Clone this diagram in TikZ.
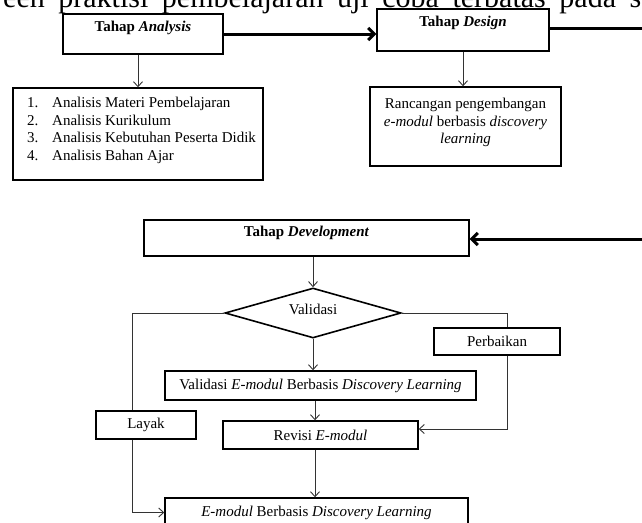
\documentclass[tikz,border=0pt]{standalone}
\usepackage{fontspec}
\setmainfont{Liberation Serif}
\usetikzlibrary{shapes.geometric,arrows.meta}
\begin{document}
\begin{tikzpicture}[x=1pt,y=-1pt,
  box/.style={draw=black, line width=1.4pt, rectangle, inner sep=0pt},
  lbl/.style={inner sep=0pt, font=\fontsize{15}{17.6}\selectfont},
  thinline/.style={draw=black!80, line width=0.9pt},
  thinarr/.style={thinline, -{Straight Barb[length=5pt,width=9pt]}},
  bigline/.style={draw=black, line width=3pt},
  bigarr/.style={bigline, -{Straight Barb[length=6pt,width=12pt]}}]
\useasboundingbox (0,0) rectangle (642,522);

% cut-off body text line at the top
\node[anchor=base west, inner sep=0pt, font=\fontsize{30}{36}\selectfont] (toptext) at (3,7) {\makebox[638pt][s]{een praktisi pembelajaran uji coba terbatas pada s}};

% top row
\node[box, minimum width=160pt, minimum height=40pt] (ana) at (143,34) {};
\node[lbl] (anat) at (143,28) {\bfseries Tahap \textit{Analysis}};
\node[box, minimum width=172pt, minimum height=42pt] (des) at (463,30) {};
\node[lbl] (dest) at (463,23) {\bfseries Tahap \textit{Design}};

\node[box, minimum width=250pt, minimum height=92pt] (lst) at (138,134) {};
\node[lbl, anchor=north west] (lstt) at (27,95) {\begin{tabular}{@{}p{25pt}@{}l@{}}
1. & Analisis Materi Pembelajaran\\
2. & Analisis Kurikulum\\
3. & Analisis Kebutuhan Peserta Didik\\
4. & Analisis Bahan Ajar
\end{tabular}};

\node[box, minimum width=191pt, minimum height=79pt] (dbox) at (465.5,126.5) {};
\node[lbl, align=center, anchor=north] (dboxt) at (465.5,98) {Rancangan pengembangan\\\textit{e-modul} berbasis \textit{discovery}\\\textit{learning}};

% development stage
\node[box, minimum width=325pt, minimum height=36pt] (dev) at (306.5,238) {};
\node[lbl] (devt) at (306.5,233) {\bfseries Tahap \textit{Development}};

\node[draw=black, line width=1.6pt, diamond, aspect=3.5, inner sep=0pt, minimum width=176pt, minimum height=50pt] (val) at (313,313) {};
\node[lbl] (valt) at (313,309) {Validasi};

\node[box, lbl, minimum width=126pt, minimum height=27pt] (perb) at (497,341.5) {Perbaikan};
\node[box, lbl, minimum width=311pt, minimum height=29pt] (vbox) at (320.5,385.5) {Validasi \textit{E-modul} Berbasis \textit{Discovery Learning}};
\node[box, lbl, minimum width=100pt, minimum height=28pt] (lay) at (146,425) {Layak};
\node[box, lbl, minimum width=195pt, minimum height=28pt] (rev) at (320.5,435) {Revisi \textit{E-modul}};
\node[box, lbl, minimum width=303pt, minimum height=29pt] (fin) at (316.5,512.5) {\textit{E-modul} Berbasis \textit{Discovery Learning}};

% connectors
\draw[bigarr] (ana.east) -- (ana.east -| des.west);
\coordinate (rtop) at (660,28);
\draw[bigline] (des.east |- rtop) -- (rtop);
\coordinate (rbot) at (660,239);
\draw[bigarr] (rbot) -- (rbot -| dev.east);

\draw[thinarr] (ana.south -| lst.north) -- (lst.north);
\draw[thinarr] (des.south) -- (des.south |- dbox.north);
\draw[thinarr] (val.north |- dev.south) -- (val.north);
\draw[thinarr] (val.south) -- (val.south |- vbox.north);
\coordinate (mcol) at (315,0);
\draw[thinarr] (mcol |- vbox.south) -- (mcol |- rev.north);
\draw[thinarr] (mcol |- rev.south) -- (mcol |- fin.north);

\coordinate (lcol) at (132,0);
\draw[thinline] (val.west) -| (lcol |- lay.north);
\draw[thinarr] (lcol |- lay.south) |- (fin.west);
\coordinate (rcol) at (507,0);
\draw[thinline] (val.east) -| (rcol |- perb.north);
\draw[thinarr] (rcol |- perb.south) |- ([yshift=6pt]rev.east);
\end{tikzpicture}
\end{document}
